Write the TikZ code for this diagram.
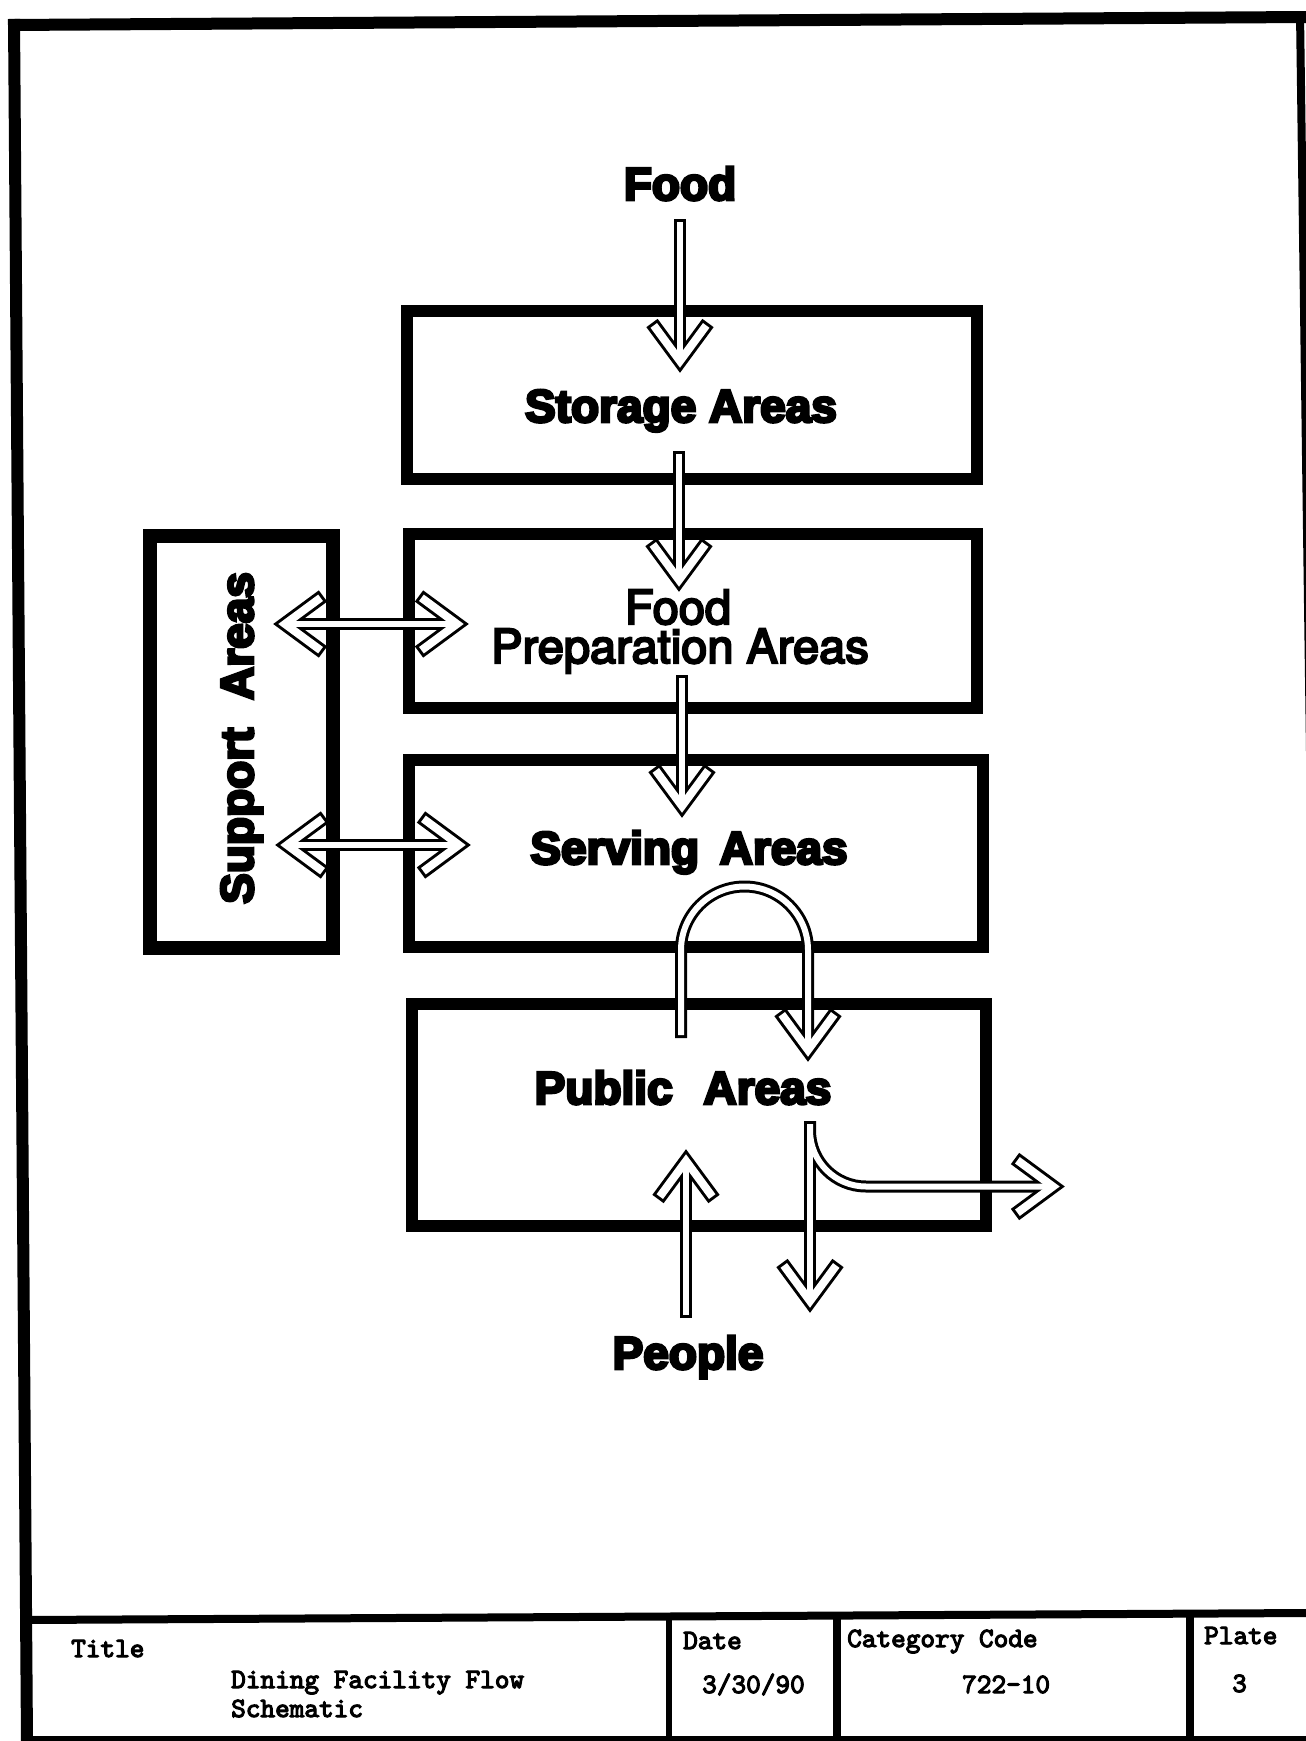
\documentclass[tikz,border=0pt]{standalone}
\usepackage{fontspec}
\newfontfamily\heavy{Liberation Sans}[UprightFont={* Bold}, UprightFeatures={FakeBold=6}]
\newfontfamily\medsans{TeX Gyre Heros}[UprightFeatures={FakeBold=4.5}]
\newfontfamily\tw{lmmono10-regular.otf}[UprightFeatures={FakeBold=4}]
\usetikzlibrary{calc}
\begin{document}
\begin{tikzpicture}[x=1pt,y=-1pt,line cap=butt,line join=miter,
  areabox/.style={draw, line width=12pt, inner sep=0pt, outer sep=0pt},
  biglbl/.style={font=\heavy\fontsize{46}{46}\selectfont, inner sep=0pt},
  medlbl/.style={font=\medsans\fontsize{47}{39}\selectfont, inner sep=0pt, align=center},
  twlbl/.style={font=\tw\fontsize{27.9}{29}\selectfont, inner sep=0pt, anchor=base west},
  frameline/.style={line width=#1, black},
  shaftout/.style={line width=12pt, black},
  shaftin/.style={line width=6pt, white},
  chevout/.style={line width=14pt, black},
  chevin/.style={line width=8pt, white, shorten <=3pt, shorten >=3pt}]
\newcommand\hollowv[5]{% name, x, ystart, ytip, dir (1 down, -1 up)
  \coordinate (#1s) at (#2,#3);
  \coordinate (#1v) at (#2,{#4-12*(#5)});
  \coordinate (#1l) at ({#2-28},{#4-50*(#5)});
  \coordinate (#1r) at ({#2+28},{#4-50*(#5)});
  \draw[shaftout] (#1s) -- (#1v);
  \draw[chevout] (#1l) -- (#1v) -- (#1r);
  \draw[shaftin, shorten <=3pt] (#1s) -- (#1v);
  \draw[chevin] (#1l) -- (#1v) -- (#1r);}
\newcommand\hollowdouble[4]{% name, y, left tip x, right tip x
  \coordinate (#1a) at ({#3+12},#2);
  \coordinate (#1b) at ({#4-12},#2);
  \coordinate (#1al) at ({#3+50},{#2-28});
  \coordinate (#1ar) at ({#3+50},{#2+28});
  \coordinate (#1bl) at ({#4-50},{#2-28});
  \coordinate (#1br) at ({#4-50},{#2+28});
  \draw[shaftout] (#1a) -- (#1b);
  \draw[chevout] (#1al) -- (#1a) -- (#1ar);
  \draw[chevout] (#1bl) -- (#1b) -- (#1br);
  \draw[shaftin] (#1a) -- (#1b);
  \draw[chevin] (#1al) -- (#1a) -- (#1ar);
  \draw[chevin] (#1bl) -- (#1b) -- (#1br);}
\fill[white] (0,0) rectangle (1306,1741);
\useasboundingbox (0,0) rectangle (1306,1741);
% page frame
\draw[frameline=12pt] (8,25) -- (1306,17);
\draw[frameline=12pt] (14,19) -- (27,1741);
\draw[frameline=8pt] (1300,13) -- (1312,900);
% title block
\draw[frameline=8pt] (27,1620) -- (1306,1613);
\draw[frameline=8pt] (27,1740) -- (1306,1740);
\draw[frameline=6pt] (669,1617) -- (669,1741);
\draw[frameline=8pt] (837,1616) -- (837,1741);
\draw[frameline=8pt] (1190,1614) -- (1190,1741);
\node[twlbl] (ttitle) at (71,1657) {Title};
\node[twlbl] (tname1) at (231,1688) {Dining Facility Flow};
\node[twlbl] (tname2) at (231,1717) {Schematic};
\node[twlbl] (tdate) at (683,1649) {Date};
\node[twlbl] (tdatev) at (702,1693) {3/30/90};
\node[twlbl] (tcat) at (847,1647) {Category Code};
\node[twlbl] (tcatv) at (962,1693) {722-10};
\node[twlbl] (tplate) at (1204,1644) {Plate};
\node[twlbl] (tplatev) at (1232,1692) {3};
% area boxes
\node[areabox, minimum width=570pt, minimum height=168pt] (storage) at (692,395) {};
\node[areabox, minimum width=568pt, minimum height=174pt] (prep) at (693,621) {};
\node[areabox, minimum width=574pt, minimum height=187pt] (serving) at (696,853.5) {};
\node[areabox, minimum width=574pt, minimum height=222pt] (public) at (699,1115) {};
\node[areabox, line width=14pt, minimum width=183pt, minimum height=412pt] (support) at (241.5,742) {};
% labels
\node[biglbl, anchor=base] (food) at (680,200) {Food};
\node[biglbl, anchor=base] (storagelbl) at (681,422) {Storage Areas};
\node[medlbl, anchor=base] (preplbl1) at (678,624) {Food};
\node[medlbl, anchor=base] (preplbl2) at (680,663) {Preparation Areas};
\node[biglbl, anchor=base] (servinglbl) at (689,864) {Serving\hspace{0.45em}Areas};
\node[biglbl, anchor=base] (publiclbl) at (683,1104) {Public\hspace{0.67em}Areas};
\node[biglbl, anchor=base] (people) at (688,1369) {People};
\node[biglbl, anchor=base, rotate=90] (supportlbl) at (253,738) {Support\hspace{0.6em}Areas};
% straight flow arrows
\hollowv{fa}{680}{219}{373}{1}
\hollowv{sa}{679}{451}{592}{1}
\hollowv{pa}{682}{675}{818}{1}
\hollowv{ea}{686}{1318}{1149}{-1}
\hollowdouble{da}{624}{273}{469}
\hollowdouble{db}{845}{275}{471}
% U-turn arrow serving -> public
\coordinate (us) at (681,1038);
\coordinate (uv) at (808,1050);
\coordinate (ul) at (780,1012);
\coordinate (ur) at (836,1012);
\draw[shaftout] (us) -- (681,950) arc[start angle=180, end angle=360, radius=63.5] -- (uv);
\draw[chevout] (ul) -- (uv) -- (ur);
\draw[shaftin, shorten <=3pt] (us) -- (681,950) arc[start angle=180, end angle=360, radius=63.5] -- (uv);
\draw[chevin] (ul) -- (uv) -- (ur);
% exit arrows from public
\coordinate (xs) at (810,1121);
\coordinate (xv) at (810,1301);
\coordinate (xl) at (782,1263);
\coordinate (xr) at (838,1263);
\coordinate (hv) at (1053,1186.5);
\coordinate (hl) at (1015,1158.5);
\coordinate (hr) at (1015,1214.5);
\draw[shaftout] (xs) -- (xv);
\draw[shaftout] (xs) -- (810,1130.5) arc[start angle=180, end angle=90, radius=56] -- (hv);
\draw[chevout] (xl) -- (xv) -- (xr);
\draw[chevout] (hl) -- (hv) -- (hr);
\draw[shaftin, shorten <=3pt] (xs) -- (xv);
\draw[shaftin, shorten <=3pt] (xs) -- (810,1130.5) arc[start angle=180, end angle=90, radius=56] -- (hv);
\draw[chevin] (xl) -- (xv) -- (xr);
\draw[chevin] (hl) -- (hv) -- (hr);
\end{tikzpicture}
\end{document}
